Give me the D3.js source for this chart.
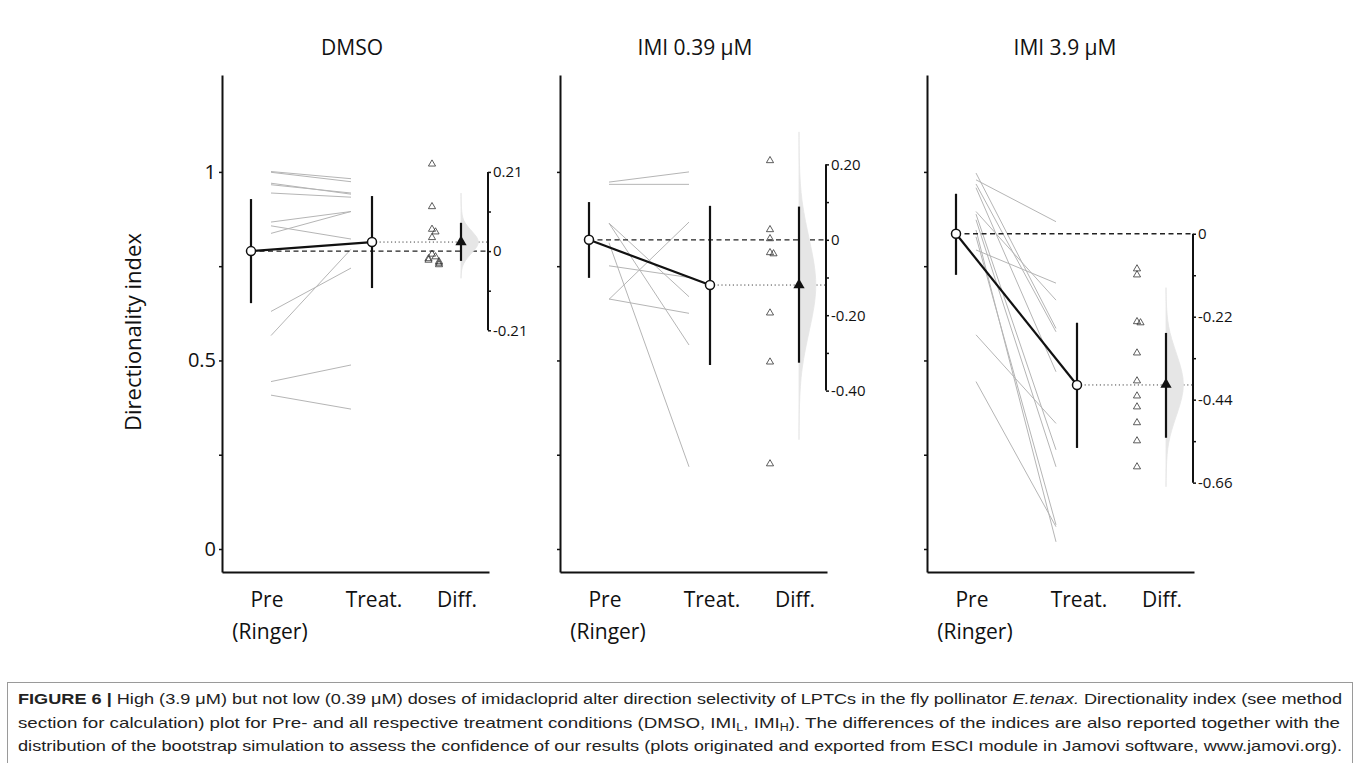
<!DOCTYPE html>
<html>
<head>
<meta charset="utf-8">
<script src="https://cdn.jsdelivr.net/npm/d3@7"></script>
<style>
  body { margin: 0; background: #fff; }
  text { font-family: "Open Sans", sans-serif; fill: #111; }
  .cap text { font-family: "Liberation Sans", Arial, sans-serif; fill: #222; }
</style>
</head>
<body>
<svg width="1360" height="763"></svg>
<script>
// panel titles and x categories
const panels = ["DMSO", "IMI 0.39 \u03bcM", "IMI 3.9 \u03bcM"];
const catTop = ["Pre", "Treat.", "Diff."];
const catBottom = ["(Ringer)", "", ""];

// main y axis
const yTicks = [0, 0.25, 0.5, 0.75, 1];
const yTickLabels = ["0", "", "0.5", "", "1"];

// paired values, pre (Ringer) -> treatment
const preDMSO   = [1.001, 0.999, 0.970, 0.966, 0.944, 0.867, 0.857, 0.837, 0.630, 0.566, 0.444, 0.408];
const treatDMSO = [0.982, 0.974, 0.941, 0.944, 0.933, 0.895, 0.822, 0.895, 0.745, 0.795, 0.488, 0.371];
const preLow    = [0.973, 0.967, 0.864, 0.864, 0.662, 0.751, 0.663, 0.812];
const treatLow  = [1.000, 0.967, 0.669, 0.541, 0.867, 0.720, 0.625, 0.218];
const preHigh   = [0.997, 0.979, 0.968, 0.958, 0.895, 0.888, 0.873, 0.846, 0.828, 0.793, 0.568, 0.444];
const treatHigh = [0.585, 0.868, 0.576, 0.470, 0.660, 0.263, 0.218, 0.019, 0.064, 0.705, 0.333, 0.059];

// group means with 95% CI
const preMean   = [0.790, 0.820, 0.836];
const preLo     = [0.652, 0.719, 0.727];
const preHi     = [0.928, 0.920, 0.942];
const treatMean = [0.814, 0.700, 0.435];
const treatLo   = [0.692, 0.488, 0.268];
const treatHi   = [0.936, 0.910, 0.600];

// differences (triangles) and their mean with CI
const diffDMSO = [0.231, 0.118, 0.058, 0.051, 0.036, -0.008, -0.015, -0.020, -0.024, -0.028, -0.032, -0.036];
const diffLow  = [0.210, 0.027, 0.003, -0.034, -0.037, -0.194, -0.324, -0.594];
const diffHigh = [-0.093, -0.109, -0.233, -0.236, -0.316, -0.390, -0.430, -0.459, -0.501, -0.549, -0.618];
const diffMean = [0.024, -0.120, -0.400];
const diffLo   = [-0.026, -0.326, -0.541];
const diffHi   = [0.075, 0.088, -0.263];

// bootstrap distribution, relative density read at difference values
const distAtDMSO  = [0.154, 0.100, 0.075, 0.050, 0.024, -0.002, -0.027, -0.050, -0.072];
const distDenDMSO = [0, 0.02, 0.15, 0.6, 1, 0.6, 0.15, 0.02, 0];
const distAtLow   = [0.286, 0.200, 0.100, 0.000, -0.120, -0.240, -0.340, -0.440, -0.530];
const distDenLow  = [0, 0.01, 0.11, 0.52, 1, 0.52, 0.11, 0.01, 0];
const distAtHigh  = [-0.143, -0.200, -0.260, -0.330, -0.400, -0.470, -0.540, -0.600, -0.671];
const distDenHigh = [0, 0.02, 0.14, 0.61, 1, 0.61, 0.14, 0.02, 0];

// difference axes
const diffTicks = [
  [0.21, 0.105, 0, -0.105, -0.21],
  [0.2, 0.1, 0, -0.1, -0.2, -0.3, -0.4],
  [0, -0.11, -0.22, -0.33, -0.44, -0.55, -0.66]
];
const diffTickLabels = [
  ["0.21", "", "0", "", "-0.21"],
  ["0.20", "", "0", "", "-0.20", "", "-0.40"],
  ["0", "", "-0.22", "", "-0.44", "", "-0.66"]
];

const pre = [preDMSO, preLow, preHigh];
const treat = [treatDMSO, treatLow, treatHigh];
const diffs = [diffDMSO, diffLow, diffHigh];
const distAt = [distAtDMSO, distAtLow, distAtHigh];
const distDen = [distDenDMSO, distDenLow, distDenHigh];

// layout
const svg = d3.select("svg");
const axisX = [222, 560, 927];
const titleX = [352, 695, 1065];
const panelW = 267;

const y = d3.scaleLinear().domain([-0.061, 1.257]).range([572, 75]);

// horizontal positions inside a panel
const px = d3.scaleOrdinal()
  .domain(["pre", "lineStart", "lineEnd", "treat", "points", "diff", "diffAxis"])
  .range([29, 49, 129, 150, 210, 239, 266]);
const labelX = d3.scaleOrdinal().domain(catTop).range([45, 152, 235]);

panels.forEach((title, i) => {
  const g = svg.append("g").attr("transform", "translate(" + axisX[i] + ",0)");
  const dy = d3.scaleLinear().domain([0, 1]).range([y(preMean[i]), y(preMean[i] + 1)]);

  // title
  svg.append("text")
    .attr("x", titleX[i]).attr("y", 55)
    .attr("text-anchor", "middle")
    .style("font-size", "21px")
    .text(title);

  // main axes
  const yAxis = g.append("g")
    .call(d3.axisLeft(y).tickValues(yTicks).tickSize(3).tickSizeOuter(0)
      .tickFormat((d, k) => i === 0 ? yTickLabels[k] : ""));
  yAxis.select(".domain").attr("stroke", "#111").attr("stroke-width", 2);
  yAxis.selectAll(".tick line").attr("stroke", "#111").attr("stroke-width", 1.5);
  yAxis.selectAll(".tick text").attr("x", -6).style("font-size", "20px").style("font-family", "Open Sans");

  const xAxis = g.append("g").attr("transform", "translate(0," + y.range()[0] + ")")
    .call(d3.axisBottom(d3.scaleLinear().range([0, panelW])).tickValues([]).tickSizeOuter(0));
  xAxis.select(".domain").attr("stroke", "#111").attr("stroke-width", 2);

  // category labels
  catTop.forEach((c, k) => {
    g.append("text").attr("x", labelX(c)).attr("y", 607)
      .attr("text-anchor", "middle").style("font-size", "21px").text(c);
    if (catBottom[k]) {
      g.append("text").attr("x", labelX(c) + 3).attr("y", 639)
        .attr("text-anchor", "middle").style("font-size", "21px").text(catBottom[k]);
    }
  });

  // individual paired lines
  g.selectAll(".pair").data(pre[i]).enter().append("line")
    .attr("class", "pair")
    .attr("x1", px("lineStart")).attr("x2", px("lineEnd"))
    .attr("y1", d => y(d)).attr("y2", (d, k) => y(treat[i][k]))
    .attr("stroke", "#b5b5b5").attr("stroke-width", 1);

  // difference axis
  const dAxis = g.append("g").attr("transform", "translate(" + px("diffAxis") + ",0)")
    .call(d3.axisRight(dy).tickValues(diffTicks[i]).tickSize(3).tickSizeOuter(0)
      .tickFormat((d, k) => diffTickLabels[i][k]));
  dAxis.select(".domain").remove();
  const ext = d3.extent(diffTicks[i]);
  dAxis.append("line").attr("y1", dy(ext[0])).attr("y2", dy(ext[1]))
    .attr("stroke", "#111").attr("stroke-width", 2);
  dAxis.selectAll(".tick line").attr("stroke", "#111").attr("stroke-width", 1.5);
  dAxis.selectAll(".tick text").attr("x", 5).style("font-size", "15px").style("font-family", "Open Sans").attr("fill", "#111");

  // reference lines
  g.append("line")
    .attr("x1", px("pre")).attr("x2", px("diffAxis"))
    .attr("y1", y(preMean[i])).attr("y2", y(preMean[i]))
    .attr("stroke", "#222").attr("stroke-width", 1.3).attr("stroke-dasharray", "5,3.5");
  g.append("line")
    .attr("x1", px("treat")).attr("x2", px("diffAxis"))
    .attr("y1", y(treatMean[i])).attr("y2", y(treatMean[i]))
    .attr("stroke", "#444").attr("stroke-width", 1).attr("stroke-dasharray", "1.2,2.6");

  // bootstrap distribution
  const dist = distAt[i].map((a, k) => ({ a: a, d: distDen[i][k] }));
  g.append("path").datum(dist)
    .attr("d", d3.area()
      .y(d => dy(d.a))
      .x0(px("diff"))
      .x1(d => px("diff") + d.d * 20)
      .curve(d3.curveBasis))
    .attr("fill", "#e6e6e6").attr("stroke", "#e6e6e6").attr("stroke-width", 0.8);

  // mean line between conditions
  g.append("line")
    .attr("x1", px("pre")).attr("x2", px("treat"))
    .attr("y1", y(preMean[i])).attr("y2", y(treatMean[i]))
    .attr("stroke", "#111").attr("stroke-width", 2.2);

  // confidence intervals
  [["pre", preLo[i], preHi[i]], ["treat", treatLo[i], treatHi[i]]].forEach(c => {
    g.append("line").attr("x1", px(c[0])).attr("x2", px(c[0]))
      .attr("y1", y(c[1])).attr("y2", y(c[2]))
      .attr("stroke", "#111").attr("stroke-width", 2.2);
  });
  g.append("line").attr("x1", px("diff")).attr("x2", px("diff"))
    .attr("y1", dy(diffLo[i])).attr("y2", dy(diffHi[i]))
    .attr("stroke", "#111").attr("stroke-width", 2.2);

  // means
  g.selectAll(".mean").data([[px("pre"), preMean[i]], [px("treat"), treatMean[i]]])
    .enter().append("circle")
    .attr("cx", d => d[0]).attr("cy", d => y(d[1])).attr("r", 4.5)
    .attr("fill", "#fff").attr("stroke", "#111").attr("stroke-width", 1.5);

  // difference points, dodged when they overlap
  const placed = [];
  const pts = diffs[i].map(v => {
    const cy = dy(v);
    const near = placed.filter(p => Math.abs(p.cy - cy) < 5).length;
    const off = near === 0 ? 0 : (near % 2 ? 1 : -1) * Math.ceil(near / 2) * 3.5;
    const p = { cy: cy, cx: px("points") + off };
    placed.push(p);
    return p;
  });
  g.selectAll(".pt").data(pts).enter().append("path")
    .attr("transform", d => "translate(" + d.cx + "," + d.cy + ")")
    .attr("d", d3.symbol(d3.symbolTriangle, 22))
    .attr("fill", "none").attr("stroke", "#333").attr("stroke-width", 0.8);

  // mean difference
  g.append("path")
    .attr("transform", "translate(" + px("diff") + "," + dy(diffMean[i]) + ")")
    .attr("d", d3.symbol(d3.symbolTriangle, 55))
    .attr("fill", "#111");
});

// y axis title
svg.append("text")
  .attr("transform", "translate(141,332) rotate(-90)")
  .attr("text-anchor", "middle")
  .style("font-size", "22px")
  .text("Directionality index");

// caption
svg.append("rect").attr("x", 7.5).attr("y", 682.5).attr("width", 1345).attr("height", 100)
  .attr("fill", "none").attr("stroke", "#9a9a9a").attr("stroke-width", 1);

const cap = svg.append("g").attr("class", "cap").style("font-size", "15px");
const l1 = cap.append("text").attr("x", 18).attr("y", 704)
  .attr("textLength", 1324).attr("lengthAdjust", "spacingAndGlyphs");
l1.append("tspan").style("font-weight", "bold").text("FIGURE 6 | ");
l1.append("tspan").text("High (3.9 \u03bcM) but not low (0.39 \u03bcM) doses of imidacloprid alter direction selectivity of LPTCs in the fly pollinator ");
l1.append("tspan").style("font-style", "italic").text("E.tenax.");
l1.append("tspan").text(" Directionality index (see method");

const l2 = cap.append("text").attr("x", 18).attr("y", 728)
  .attr("textLength", 1322).attr("lengthAdjust", "spacingAndGlyphs");
l2.append("tspan").text("section for calculation) plot for Pre- and all respective treatment conditions (DMSO, IMI");
l2.append("tspan").attr("dy", 3).style("font-size", "10px").text("L");
l2.append("tspan").attr("dy", -3).text(", IMI");
l2.append("tspan").attr("dy", 3).style("font-size", "10px").text("H");
l2.append("tspan").attr("dy", -3).text("). The differences of the indices are also reported together with the");

cap.append("text").attr("x", 18).attr("y", 751)
  .attr("textLength", 1324).attr("lengthAdjust", "spacingAndGlyphs")
  .text("distribution of the bootstrap simulation to assess the confidence of our results (plots originated and exported from ESCI module in Jamovi software, www.jamovi.org).");
</script>
</body>
</html>
